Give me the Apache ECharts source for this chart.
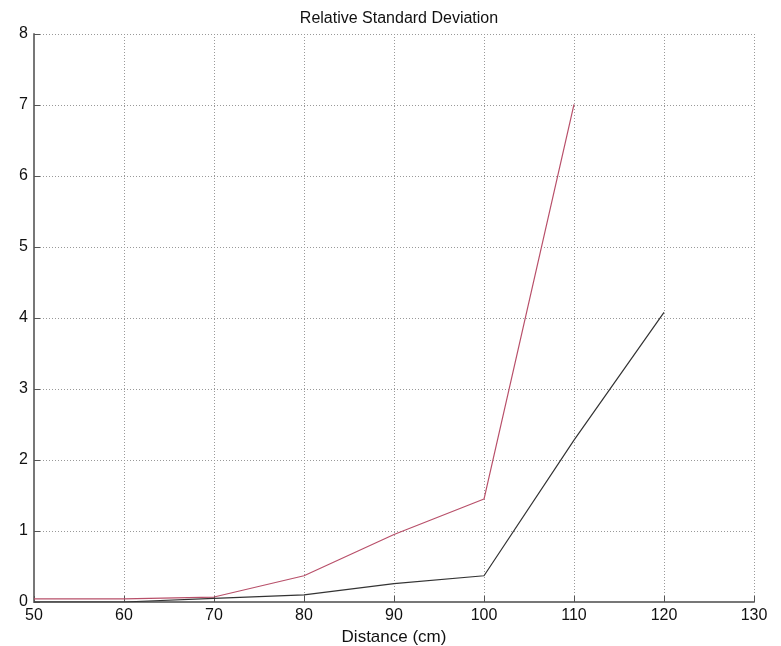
<!DOCTYPE html>
<html>
<head>
<meta charset="utf-8">
<script src="https://cdn.jsdelivr.net/npm/echarts@6/dist/echarts.min.js"></script>
<style>html,body{margin:0;padding:0;background:#fff;}#c{width:781px;height:646px;}</style>
</head>
<body>
<div id="c"></div>
<script>
const titleText = 'Relative Standard Deviation';
const xName = 'Distance (cm)';
const redX = [50, 60, 70, 80, 90, 100, 110];
const redY = [0.045, 0.045, 0.07, 0.37, 0.95, 1.45, 7.01];
const blackX = [50, 60, 70, 80, 90, 100, 110, 120];
const blackY = [0.0, 0.0, 0.05, 0.1, 0.26, 0.37, 2.28, 4.08];

const chart = echarts.init(document.getElementById('c'), null, {renderer: 'canvas'});
const font = 'Liberation Sans, Arial, sans-serif';
chart.setOption({
  animation: false,
  backgroundColor: '#fff',
  title: {
    text: titleText, left: 394, top: 6, textAlign: 'center',
    textStyle: {fontFamily: font, fontSize: 16, fontWeight: 'normal', color: '#111'}
  },
  grid: {left: 34, top: 34, width: 720, height: 568, show: false, containLabel: false, outerBoundsMode: 'none'},
  xAxis: {
    type: 'value', min: 50, max: 130, interval: 10,
    name: xName, nameLocation: 'middle', nameGap: 21,
    nameTextStyle: {fontFamily: font, fontSize: 17, color: '#111'},
    axisLine: {show: true, onZero: false, lineStyle: {color: '#777', width: 2}},
    axisTick: {show: true, inside: true, length: 6, lineStyle: {color: '#555'}},
    axisLabel: {fontFamily: font, fontSize: 16, color: '#111', margin: 6},
    splitLine: {show: true, showMinLine: false, lineStyle: {type: [1, 2], color: '#999', width: 1}}
  },
  yAxis: {
    type: 'value', min: 0, max: 8, interval: 1,
    axisLine: {show: true, lineStyle: {color: '#777', width: 2}},
    axisTick: {show: true, inside: true, length: 6, lineStyle: {color: '#555'}},
    axisLabel: {fontFamily: font, fontSize: 16, color: '#111', margin: 6},
    splitLine: {show: true, showMinLine: false, lineStyle: {type: [1, 2], color: '#999', width: 1}}
  },
  series: [
    {type: 'line', data: redX.map((x, i) => [x, redY[i]]), symbol: 'none',
     lineStyle: {color: '#b8506a', width: 1.2}, z: 3},
    {type: 'line', data: blackX.map((x, i) => [x, blackY[i]]), symbol: 'none',
     lineStyle: {color: '#333', width: 1.2}, z: 4}
  ]
});
</script>
</body>
</html>
